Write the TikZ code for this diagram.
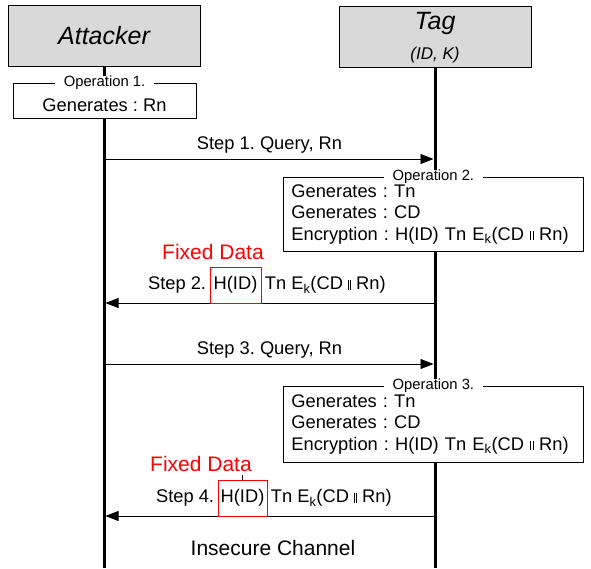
\documentclass[tikz,border=0pt]{standalone}
\usepackage{fontspec}
\setmainfont{Liberation Sans}
\usetikzlibrary{positioning,arrows.meta}

\definecolor{boxgray}{HTML}{D9D9D9}
\newcommand{\dbar}{\rule{0.6pt}{9.5pt}\kern1.8pt\rule{0.6pt}{9.5pt}}

\tikzset{
	actor/.style={draw, fill=boxgray, minimum width=192pt, minimum height=61pt, inner sep=0pt},
	lifeline/.style={line width=3pt},
	msg/.style={-{Triangle[length=13pt,width=10pt]}, line width=0.8pt, shorten >=1.5pt},
	opbox/.style={draw, fill=white, line width=0.8pt, inner xsep=8pt},
	optitle/.style={fill=white, inner xsep=9pt, inner ysep=0pt, font=\fontsize{14.8}{15}\selectfont},
	fixbox/.style={draw=red, line width=0.8pt, minimum height=36pt, inner sep=0pt},
	fixlabel/.style={text=red, font=\fontsize{21}{21}\selectfont}
}

\begin{document}
\frenchspacing
\begin{tikzpicture}[x=1pt, y=-1pt, font=\fontsize{18.3}{21.5}\selectfont]
	\useasboundingbox (0,0) rectangle (591,568);

	% the two parties
	\node[actor] (att) at (104,36) {\itshape\fontsize{25}{25}\selectfont Attacker};
	\node[actor] (tag) at (435,37) {};
	\node[font=\itshape\fontsize{25}{25}\selectfont] (tagname) at (435,23) {Tag};
	\node[font=\itshape\fontsize{17}{17}\selectfont] (tagkey) at (435,55) {(ID, K)};

	\coordinate (attend) at (104,568);
	\coordinate (tagend) at (435,568);
	\draw[lifeline] (att.south) -- (attend);
	\draw[lifeline] (tag.south) -- (tagend);

	% operation 1
	\node[opbox, minimum width=183pt, minimum height=35pt, text height=22pt] (op1) at (104.5,100.5) {Generates : Rn};
	\node[optitle] (op1t) at (op1.north) {Operation 1.};

	% step 1
	\coordinate (a1) at (104,159);
	\coordinate (t1) at (435,159);
	\draw[msg] (a1) -- node[above=2pt] (s1) {Step 1. Query, Rn} (t1);

	% operation 2
	\node[opbox, anchor=north west, minimum width=300pt, minimum height=74pt, text width=284pt, align=left] (op2) at (283,177)
		{Generates : Tn\\Generates : CD\\Encryption : H(ID) Tn E\textsubscript{k}(CD \dbar{} Rn)};
	\node[optitle] (op2t) at (op2.north) {Operation 2.};

	% step 2
	\coordinate (t2) at (435,303);
	\coordinate (a2) at (104,303);
	\draw[msg] (t2) -- (a2);
	\node[fixbox, minimum width=51pt] (hid1) at (235.5,285) {H(ID)};
	\node[base left=0pt of hid1] (s2a) {Step 2.};
	\node[base right=0pt of hid1] (s2b) {Tn E\textsubscript{k}(CD \dbar{} Rn)};
	\node[fixlabel] (fix1) at (213,252) {Fixed Data};

	% step 3
	\coordinate (a3) at (104,364);
	\coordinate (t3) at (435,364);
	\draw[msg] (a3) -- node[above=2pt] (s3) {Step 3. Query, Rn} (t3);

	% operation 3
	\node[opbox, anchor=north west, minimum width=300pt, minimum height=76pt, text width=284pt, align=left] (op3) at (283,386)
		{Generates : Tn\\Generates : CD\\Encryption : H(ID) Tn E\textsubscript{k}(CD \dbar{} Rn)};
	\node[optitle] (op3t) at (op3.north) {Operation 3.};

	% step 4
	\coordinate (t4) at (435,516);
	\coordinate (a4) at (104,516);
	\draw[msg] (t4) -- (a4);
	\node[fixbox, minimum width=49pt] (hid2) at (242.5,498) {H(ID)};
	\node[base left=0pt of hid2] (s4a) {Step 4.};
	\node[base right=0pt of hid2] (s4b) {Tn E\textsubscript{k}(CD \dbar{} Rn)};
	\node[fixlabel] (fix2) at (201,464) {Fixed Data};
	\draw[line width=0.6pt] (fix2.south -| hid2.north) -- (hid2.north);

	\node[font=\fontsize{21}{21}\selectfont] (chan) at (273,548) {Insecure Channel};
\end{tikzpicture}
\end{document}
